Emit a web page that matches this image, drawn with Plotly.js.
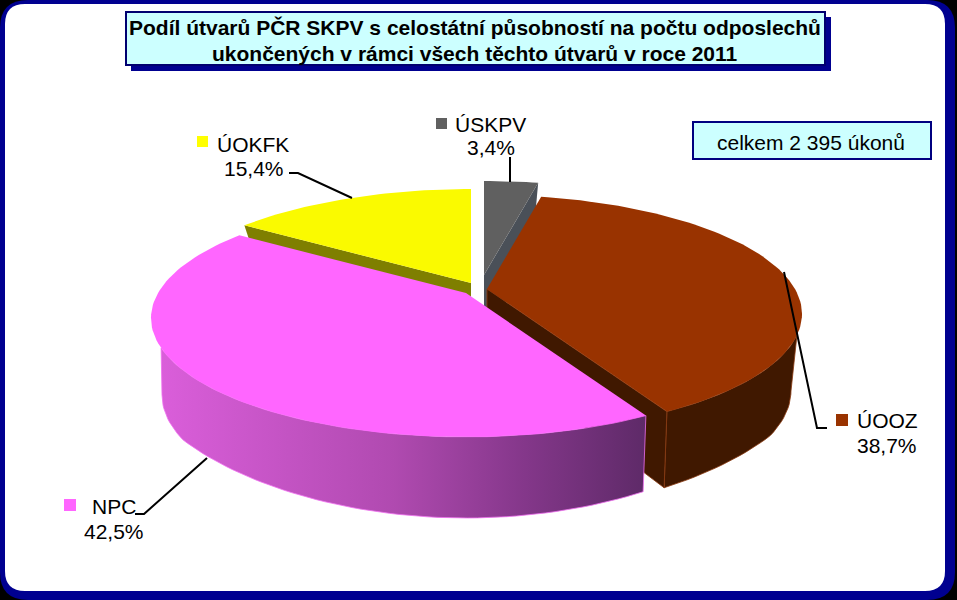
<!DOCTYPE html>
<html><head><meta charset="utf-8">
<script src="https://cdn.plot.ly/plotly-3.0.1.min.js"></script>
<style>html,body{margin:0;padding:0;background:#000}</style></head>
<body><div id="chart" style="width:957px;height:600px"></div>
<script>
const categories = ["ÚSKPV","ÚOOZ","NPC","ÚOKFK"];
const shares = [3.4,38.7,42.5,15.4];
const topColors = ["#606060","#993300","#FF66FF","#FAFA00"];
const sideColors = ["#4A5058","#401800","#FF66FF","#7F7F00"];
const apexX = [484,487,466,471];
const apexY = [275,289,293,283];
const titleLines = ["Podíl útvarů PČR SKPV s celostátní působností na počtu odposlechů","ukončených v rámci všech těchto útvarů v roce 2011"];
const totalNote = "celkem 2 395 úkonů";

// projection of the tilted, perspective disc
const TOP = {A:308,B:113.7,p:0.21,d:0,q:0};
const BOT = {A:290,B:112,p:0.3,d:65,q:0.2};
const proj = (i,plane,deg)=>{
  const t=deg*Math.PI/180, X=Math.sin(t), Y=Math.cos(t), w=1+plane.p*Y;
  const f=1-plane.q*Math.max(0,-Y-0.6);
  return [apexX[i]+plane.A*X/w*f, apexY[i]+plane.d-plane.B*Y/w];
};
const arc=(i,plane,a,b)=>{
  const pts=[], n=Math.max(2,Math.ceil(Math.abs(b-a)/1.5));
  for(let k=0;k<=n;k++) pts.push(proj(i,plane,a+(b-a)*k/n));
  return pts;
};
const total=shares.reduce((s,v)=>s+v,0);
const starts=[]; let acc=0;
shares.forEach(v=>{starts.push(acc); acc+=v/total*360;});
const ends=starts.map((s,i)=>s+shares[i]/total*360);

const poly=(pts,color,extra)=>Object.assign({
  type:'scatter',mode:'lines',x:pts.map(p=>p[0]).concat(pts[0][0]),y:pts.map(p=>p[1]).concat(pts[0][1]),
  fill:'toself',fillcolor:color,line:{width:0,color:color},hoverinfo:'skip',showlegend:false
},extra||{});
const apexTop=i=>[apexX[i],apexY[i]+TOP.d];
const apexBot=i=>[apexX[i],apexY[i]+BOT.d];
const topFace=(i)=>poly([apexTop(i)].concat(arc(i,TOP,starts[i],ends[i])),topColors[i]);
// rim: top arc a->aTop, bottom arc aBot->a, joined along the silhouette tangent
const rim=(i,topFrom,topTo,botFrom,botTo,extra)=>poly(arc(i,TOP,topFrom,topTo).concat(arc(i,BOT,botFrom,botTo)),sideColors[i],extra);
const cut=(i,deg,color,extra)=>poly([apexTop(i),proj(i,TOP,deg),proj(i,BOT,deg),apexBot(i)],color,extra);

const traces=[];
const edge=c=>({line:{width:0.8,color:c}});
// back to front: yellow, grey, brown, pink
traces.push(cut(3,starts[3],sideColors[3]));
traces.push(cut(3,ends[3],sideColors[3]));
traces.push(topFace(3));
traces.push(cut(0,ends[0],sideColors[0]));
traces.push(topFace(0));
traces.push(rim(1,112,ends[1],ends[1],107.5,edge("#8A3A10")));
traces.push(cut(1,ends[1],sideColors[1],edge("#8A3A10")));
traces.push(topFace(1));
traces.push(rim(2,starts[2],244,252.5,starts[2],{
  line:{width:0.8,color:"#F070F0"},
  fillgradient:{type:'horizontal',colorscale:[[0,"#DA5EDA"],[0.48,"#B04AB0"],[0.75,"#84378A"],[1,"#5E2A68"]]}
}));
traces.push(topFace(2));

const rect=(x0,y0,x1,y1,fill,lc,lw,layer)=>({type:'rect',xref:'x',yref:'y',x0,y0,x1,y1,fillcolor:fill,line:{color:lc||fill,width:lw||0},layer:layer||'below'});
const round=(x0,y0,x1,y1,r,fill)=>({type:'path',xref:'x',yref:'y',layer:'below',fillcolor:fill,line:{width:0},
  path:`M${x0+r},${y0} L${x1-r},${y0} Q${x1},${y0} ${x1},${y0+r} L${x1},${y1-r} Q${x1},${y1} ${x1-r},${y1} L${x0+r},${y1} Q${x0},${y1} ${x0},${y1-r} L${x0},${y0+r} Q${x0},${y0} ${x0+r},${y0} Z`});
const leader=(pts)=>({type:'path',xref:'x',yref:'y',layer:'above',line:{color:'#000',width:2},path:'M'+pts.map(p=>p.join(',')).join(' L')});

const shapes=[
  round(0,0,955,600,28,"#000090"),
  round(5,4,945,591,20,"#FFFFFF"),
  rect(131,17,831,71,"#000090"),
  rect(126,12,825,65,"#CCFFFF","#000070",2),
  rect(693,122,931,159,"#CCFFFF","#000080",2),
  leader([[510,182],[510,157]]),
  leader([[289,173],[298,173],[352,198]]),
  leader([[784,272],[817,428],[827,428]]),
  leader([[207,458],[144,514],[135,514]]),
  rect(436,118,447,129,topColors[0],null,0,'above'),
  rect(836,414,848,426,topColors[1],null,0,'above'),
  rect(64,499,76,511,topColors[2],null,0,'above'),
  rect(197,136,208,147,"#FFFF00",null,0,'above'),
];
const font={family:'"Liberation Sans",Arial,sans-serif',size:21,color:'#000'};
const txt=(x,y,t,f)=>({xref:'x',yref:'y',x,y,text:t,showarrow:false,xanchor:'center',yanchor:'middle',font:f||font});
const pct=i=>shares[i].toFixed(1).replace('.',',')+'%';
const bold={family:font.family,size:21,color:'#000',weight:700};
const annotations=[
  txt(475,27,'<b>'+titleLines[0]+'</b>',bold),
  txt(475,53,'<b>'+titleLines[1]+'</b>',bold),
  txt(811,142,totalNote,{family:font.family,size:21,color:'#000'}),
  txt(490,124,categories[0]), txt(491,147,pct(0)),
  txt(887,420,categories[1]), txt(887,445,pct(1)),
  txt(114,506,categories[2]), txt(114,531,pct(2)),
  txt(253,144,categories[3]), txt(254,168,pct(3)),
];
Plotly.newPlot('chart',traces,{
  width:957,height:600,margin:{l:0,r:0,t:0,b:0},
  paper_bgcolor:'#000',plot_bgcolor:'rgba(0,0,0,0)',
  xaxis:{range:[0,957],visible:false,fixedrange:true},
  yaxis:{range:[600,0],visible:false,fixedrange:true},
  shapes,annotations,showlegend:false
},{displayModeBar:false,staticPlot:true});
</script></body></html>
